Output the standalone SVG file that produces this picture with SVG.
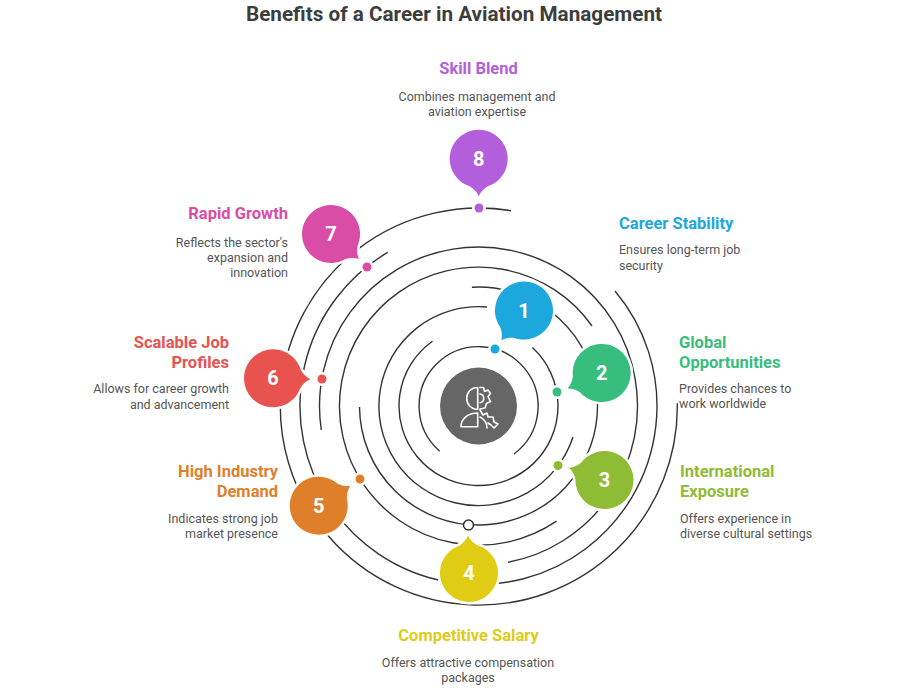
<svg xmlns="http://www.w3.org/2000/svg" width="900" height="696" viewBox="0 0 900 696">
<style>
text{font-family:Roboto,"Liberation Sans",sans-serif}
.title{font-size:20.7px;font-weight:700;fill:#3d3d3d;text-anchor:middle}
.h{font-size:16.5px;font-weight:700}
.d{font-size:12.5px;fill:#555}
.num{font-size:20px;font-weight:700;fill:#fff;text-anchor:middle}
.m{text-anchor:middle}.e{text-anchor:end}
.arc{fill:none;stroke:#333;stroke-width:1.4}
.bub{stroke:#fff;stroke-width:5;paint-order:stroke}
.halo{fill:#fff}
.ic{fill:none;stroke:#fff;stroke-width:1.6;stroke-linejoin:round;stroke-linecap:round}
</style>
<defs>
<path id="bubble" d="M-9,-27.6 C-5,-30 -2,-33 0,-37.5 C2,-33 5,-30 9,-27.6 A29 29 0 1 1 -9,-27.6Z"/>
</defs>
<rect width="900" height="696" fill="#fff"/>
<text class="title" x="454" y="21">Benefits of a Career in Aviation Management</text>
<g id="connectors">
<path class="arc" d="M514,454 A59.5,59.5 0 1 0 439.7,451.2"/>
<path class="arc" d="M532.4,347.6 A79.5,79.5 0 1 1 432.5,341.2"/>
<path class="arc" d="M573,437 A99.5,99.5 0 1 1 487,307"/>
<path class="arc" d="M471.9,287.2 A119,119 0 1 1 359.5,407"/>
<path class="arc" d="M556.5,521.2 A139,139 0 1 1 592,326"/>
<path class="arc" d="M321.3,429.8 A159,159 0 1 1 507.9,562.3"/>
<path class="arc" d="M387.7,252.3 A178.5,178.5 0 1 0 615,291"/>
<path class="arc" d="M511,210.7 A198.5,198.5 0 1 0 677.3,403.3"/>
</g>
<g id="center">
<circle cx="478.5" cy="406" r="38.5" fill="#666"/>
<path class="ic" d="M477.7,387.5 C471,387.5 466.7,392.5 466.7,398.2 C466.7,404 471,409.3 477.7,409.3 Z"/>
<path class="ic" d="M477.7,413 C468,413 461,419 461,426.7 L477.7,426.7 Z"/>
<path class="ic" d="M480,387.5 L483.5,387.5 L484.5,391.5 L488,390 L490.5,393.5 L488,396.5 L490.5,401.5 L486.5,403.5 L485,408 L480,409"/>
<path class="ic" d="M480,394 A4.4,4.4 0 0 1 480,402.7"/>
<path class="ic" d="M480,410 L483,415 L487,413 L488,417 L493,417 L494,422 L498,424 L494,428 L491,425 L488,423"/>
<path class="ic" d="M480,417 C484,419 487,423 487,428"/>
</g>
<g id="node-1"><use href="#bubble" class="bub" fill="#1ca8dd" transform="translate(524,310.5) rotate(-142.7)"/><text class="num" x="524" y="317.5">1</text>
<circle class="halo" cx="495" cy="349" r="7"/><circle cx="495" cy="349" r="4.5" fill="#1ca8dd"/>
<text class="h" x="619" y="229" fill="#1ca8dd">Career Stability</text>
<text class="d" x="619" y="254">Ensures long-term job</text><text class="d" x="619" y="270">security</text></g>
<g id="node-2"><use href="#bubble" class="bub" fill="#37bd7e" transform="translate(601.7,373) rotate(-114.6)"/><text class="num" x="601.7" y="380">2</text>
<circle class="halo" cx="557" cy="392" r="7"/><circle cx="557" cy="392" r="4.5" fill="#37bd7e"/>
<text class="h" x="679" y="348" fill="#37bd7e">Global</text><text class="h" x="679" y="368" fill="#37bd7e">Opportunities</text>
<text class="d" x="679" y="393">Provides chances to</text><text class="d" x="679" y="408">work worldwide</text></g>
<g id="node-3"><use href="#bubble" class="bub" fill="#8fbc35" transform="translate(604.5,480) rotate(-70.9)"/><text class="num" x="604.5" y="486.5">3</text>
<circle class="halo" cx="558" cy="465.5" r="7"/><circle cx="558" cy="465.5" r="4.5" fill="#8fbc35"/>
<text class="h" x="680" y="477" fill="#8fbc35">International</text><text class="h" x="680" y="497" fill="#8fbc35">Exposure</text>
<text class="d" x="680" y="523">Offers experience in</text><text class="d" x="680" y="538">diverse cultural settings</text></g>
<g id="node-4"><use href="#bubble" class="bub" fill="#e0cb15" transform="translate(469,573) rotate(-1.6)"/><text class="num" x="469" y="580">4</text>
<circle cx="468.5" cy="525" r="5" fill="#fff" stroke="#333" stroke-width="1.5"/>
<text class="h m" x="468.5" y="641" fill="#e0cb15">Competitive Salary</text>
<text class="d m" x="468" y="667">Offers attractive compensation</text><text class="d m" x="468" y="682">packages</text></g>
<g id="node-5"><use href="#bubble" class="bub" fill="#e07f2a" transform="translate(318.7,505.7) rotate(57.8)"/><text class="num" x="318.7" y="512.5">5</text>
<circle class="halo" cx="360" cy="479" r="7"/><circle cx="360" cy="479" r="4.5" fill="#e07f2a"/>
<text class="h e" x="278" y="477" fill="#e07f2a">High Industry</text><text class="h e" x="278" y="497" fill="#e07f2a">Demand</text>
<text class="d e" x="278" y="523">Indicates strong job</text><text class="d e" x="278" y="538">market presence</text></g>
<g id="node-6"><use href="#bubble" class="bub" fill="#e8524f" transform="translate(273,378.3) rotate(91.5)"/><text class="num" x="273" y="385">6</text>
<circle class="halo" cx="322" cy="379" r="7"/><circle cx="322" cy="379" r="4.5" fill="#e8524f"/>
<text class="h e" x="229" y="348" fill="#e8524f">Scalable Job</text><text class="h e" x="229" y="368" fill="#e8524f">Profiles</text>
<text class="d e" x="229" y="393">Allows for career growth</text><text class="d e" x="229" y="409">and advancement</text></g>
<g id="node-7"><use href="#bubble" class="bub" fill="#d94da6" transform="translate(331,234) rotate(131.8)"/><text class="num" x="331" y="241">7</text>
<circle class="halo" cx="367" cy="267" r="7"/><circle cx="367" cy="267" r="4.5" fill="#d94da6"/>
<text class="h e" x="288" y="219" fill="#d94da6">Rapid Growth</text>
<text class="d e" x="288" y="247">Reflects the sector's</text><text class="d e" x="288" y="262">expansion and</text><text class="d e" x="288" y="277">innovation</text></g>
<g id="node-8"><use href="#bubble" class="bub" fill="#b35fdb" transform="translate(478.7,158.7) rotate(180)"/><text class="num" x="478.7" y="166">8</text>
<circle class="halo" cx="479" cy="208" r="7"/><circle cx="479" cy="208" r="4.5" fill="#b35fdb"/>
<text class="h m" x="478.5" y="74" fill="#b35fdb">Skill Blend</text>
<text class="d m" x="477" y="101">Combines management and</text><text class="d m" x="477" y="116">aviation expertise</text></g>
</svg>
